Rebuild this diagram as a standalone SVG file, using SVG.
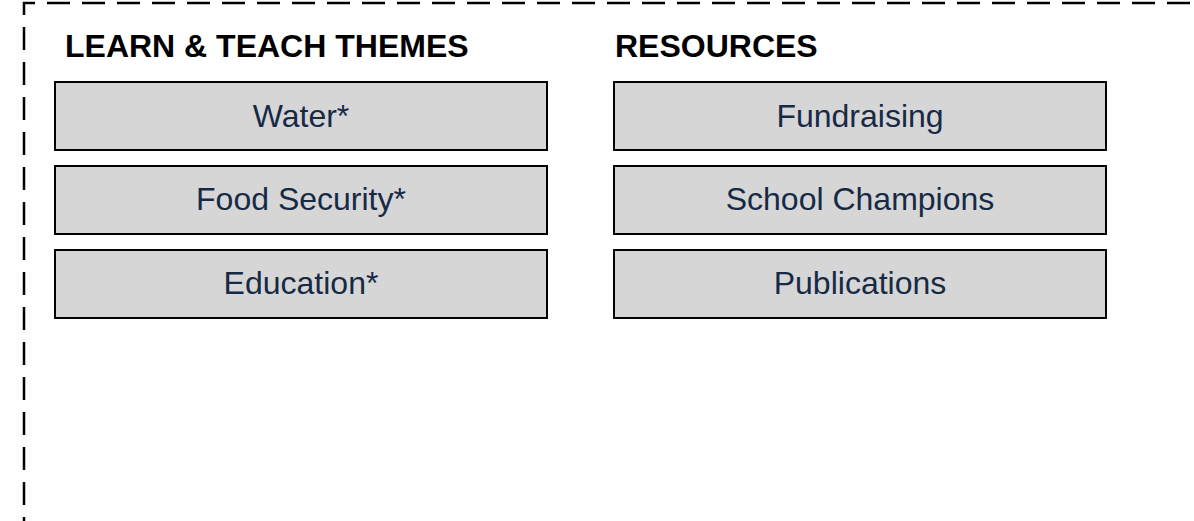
<svg xmlns="http://www.w3.org/2000/svg" width="1194" height="521" viewBox="0 0 1194 521">
<style>
.frame{fill:none;stroke:#000;stroke-width:2.5;stroke-dasharray:23 12}
.box{fill:#d6d6d6;stroke:#000;stroke-width:2}
.lbl{font-family:"Liberation Sans",Arial,sans-serif;font-size:32px;fill:#172a45;text-anchor:middle}
.ttl{font-family:"Liberation Sans",Arial,sans-serif;font-size:32px;font-weight:bold;fill:#000}
</style>
<rect width="1194" height="521" fill="#fff"/>
<path class="frame" d="M24,540 L24,3 L1210,3"/>
<g id="title-learn"><text class="ttl" x="65" y="57">LEARN &amp; TEACH THEMES</text></g>
<g id="title-resources"><text class="ttl" x="615" y="57">RESOURCES</text></g>
<g id="water"><rect class="box" x="55" y="82" width="492" height="68"/><text class="lbl" x="301" y="127">Water*</text></g>
<g id="food"><rect class="box" x="55" y="166" width="492" height="68"/><text class="lbl" x="301" y="210">Food Security*</text></g>
<g id="education"><rect class="box" x="55" y="250" width="492" height="68"/><text class="lbl" x="301" y="294">Education*</text></g>
<g id="fundraising"><rect class="box" x="614" y="82" width="492" height="68"/><text class="lbl" x="860" y="127">Fundraising</text></g>
<g id="champions"><rect class="box" x="614" y="166" width="492" height="68"/><text class="lbl" x="860" y="210">School Champions</text></g>
<g id="publications"><rect class="box" x="614" y="250" width="492" height="68"/><text class="lbl" x="860" y="294">Publications</text></g>
<g id="connectors"></g>
</svg>
